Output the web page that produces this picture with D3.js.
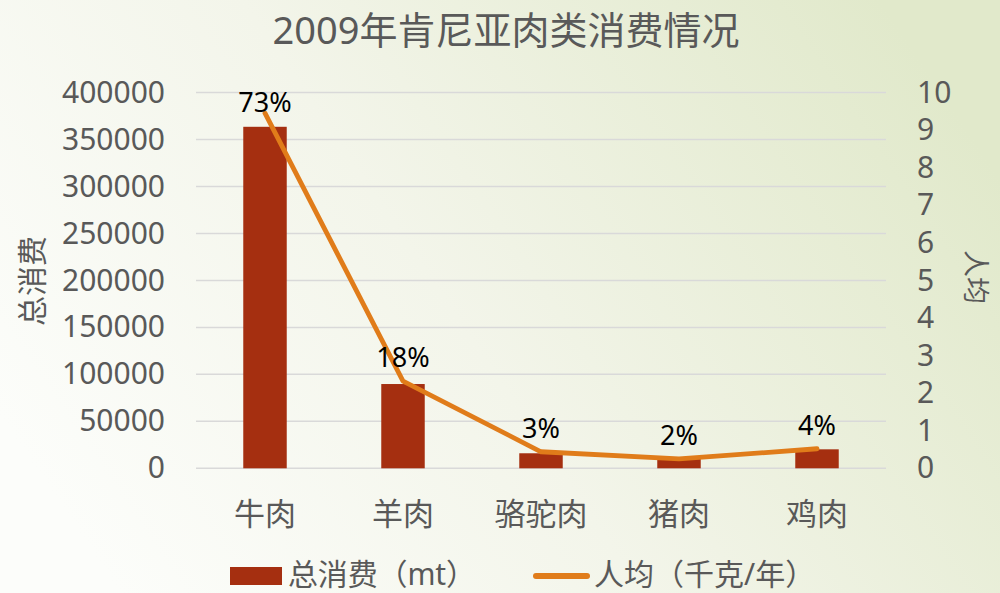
<!DOCTYPE html>
<html>
<head>
<meta charset="utf-8">
<script src="https://cdn.jsdelivr.net/npm/d3@7"></script>
<style>
html,body{margin:0;padding:0;overflow:hidden;}
svg{display:block;}
text{font-family:"Noto Sans","Noto Sans CJK SC",sans-serif;}
</style>
</head>
<body>
<svg id="chart" width="1000" height="593"></svg>
<script>
const categories = ["牛肉", "羊肉", "骆驼肉", "猪肉", "鸡肉"];
const totalConsumption = [363500, 89700, 16000, 9900, 20200];
const perCapita = [9.45, 2.32, 0.44, 0.25, 0.52];
const shareLabels = ["73%", "18%", "3%", "2%", "4%"];
const leftTicks = [0, 50000, 100000, 150000, 200000, 250000, 300000, 350000, 400000];
const rightTicks = [0, 1, 2, 3, 4, 5, 6, 7, 8, 9, 10];
const titleText = "2009年肯尼亚肉类消费情况";
const leftTitle = "总消费";
const rightTitle = "人均";
const legendBar = "总消费（mt）";
const legendLine = "人均（千克/年）";

const svg = d3.select("#chart");
const W = 1000, H = 593;
const plot = {left: 196, right: 886, top: 92.5, bottom: 468.3};

// background gradient
const defs = svg.append("defs");
const grad = defs.append("linearGradient").attr("id", "bg")
  .attr("x1", "0").attr("y1", "0.7").attr("x2", "1").attr("y2", "0.3");
grad.append("stop").attr("offset", "0%").attr("stop-color", "#fcfdfa");
grad.append("stop").attr("offset", "45%").attr("stop-color", "#f3f5ea");
grad.append("stop").attr("offset", "100%").attr("stop-color", "#e1e9cb");
svg.append("rect").attr("width", W).attr("height", H).attr("fill", "url(#bg)");

const x = d3.scaleBand().domain(categories).range([plot.left, plot.right]).padding(0);
const yL = d3.scaleLinear().domain([0, 400000]).range([plot.bottom, plot.top]);
const yR = d3.scaleLinear().domain([0, 10]).range([plot.bottom, plot.top]);

// gridlines
svg.append("g").selectAll("line").data(leftTicks).join("line")
  .attr("x1", plot.left).attr("x2", plot.right)
  .attr("y1", d => yL(d)).attr("y2", d => yL(d))
  .attr("stroke", "#d9d9d9").attr("stroke-width", 1.5);

// title
svg.append("text").attr("x", 506).attr("y", 44).attr("text-anchor", "middle")
  .attr("font-size", 38).attr("fill", "#595959").text(titleText);

// left axis
const axL = svg.append("g").attr("transform", `translate(${plot.left},0)`)
  .call(d3.axisLeft(yL).tickValues(leftTicks).tickSize(0).tickPadding(31).tickFormat(d3.format("d")));
axL.select(".domain").remove();
axL.selectAll("text").attr("font-size", 30).attr("fill", "#595959")
  .style("font-family", '"Noto Sans","Noto Sans CJK SC",sans-serif');

// right axis
const axR = svg.append("g").attr("transform", `translate(${plot.right},0)`)
  .call(d3.axisRight(yR).tickValues(rightTicks).tickSize(0).tickPadding(31).tickFormat(d3.format("d")));
axR.select(".domain").remove();
axR.selectAll("text").attr("font-size", 30).attr("fill", "#595959")
  .style("font-family", '"Noto Sans","Noto Sans CJK SC",sans-serif');

// axis titles
svg.append("text").attr("transform", "translate(43,281) rotate(-90)")
  .attr("text-anchor", "middle").attr("font-size", 30).attr("fill", "#595959").text(leftTitle);
svg.append("text").attr("transform", "translate(966,277) rotate(90)")
  .attr("text-anchor", "middle").attr("font-size", 27).attr("fill", "#595959").text(rightTitle);

// bars
const bw = x.bandwidth() * 0.315;
svg.append("g").selectAll("rect").data(categories).join("rect")
  .attr("x", d => x(d) + x.bandwidth() / 2 - bw / 2)
  .attr("width", bw)
  .attr("y", (d, i) => yL(totalConsumption[i]))
  .attr("height", (d, i) => yL(0) - yL(totalConsumption[i]))
  .attr("fill", "#a52f10");

// line
const line = d3.line()
  .x((d, i) => x(categories[i]) + x.bandwidth() / 2)
  .y(d => yR(d));
svg.append("path").datum(perCapita).attr("d", line)
  .attr("fill", "none").attr("stroke", "#e07c1a").attr("stroke-width", 4.8)
  .attr("stroke-linejoin", "round").attr("stroke-linecap", "round");

// data labels
svg.append("g").selectAll("text").data(shareLabels).join("text")
  .attr("x", (d, i) => x(categories[i]) + x.bandwidth() / 2)
  .attr("y", (d, i) => Math.max(yR(perCapita[i]) - 14, plot.top + 19))
  .attr("text-anchor", "middle").attr("font-size", 27).attr("fill", "#000")
  .text(d => d);

// category labels
svg.append("g").selectAll("text").data(categories).join("text")
  .attr("x", d => x(d) + x.bandwidth() / 2)
  .attr("y", 525)
  .attr("text-anchor", "middle").attr("font-size", 31).attr("fill", "#595959")
  .text(d => d);

// legend
svg.append("rect").attr("x", 230).attr("y", 567).attr("width", 52).attr("height", 18).attr("fill", "#a52f10");
svg.append("text").attr("x", 288).attr("y", 585).attr("font-size", 30).attr("fill", "#595959")
  .attr("textLength", 188).attr("lengthAdjust", "spacing").text(legendBar);
svg.append("line").attr("x1", 536).attr("x2", 587).attr("y1", 576).attr("y2", 576)
  .attr("stroke", "#e07c1a").attr("stroke-width", 6).attr("stroke-linecap", "round");
svg.append("text").attr("x", 594).attr("y", 585).attr("font-size", 30).attr("fill", "#595959").text(legendLine);
</script>
</body>
</html>
